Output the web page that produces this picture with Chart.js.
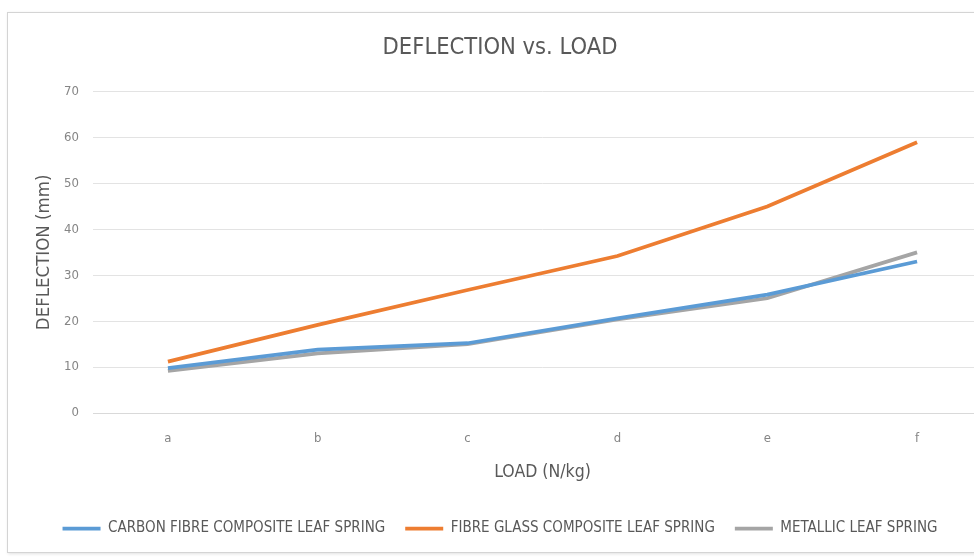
<!DOCTYPE html>
<html>
<head>
<meta charset="utf-8">
<script src="https://cdn.jsdelivr.net/npm/chart.js@4.4.1/dist/chart.umd.min.js"></script>
<style>
  html, body { margin: 0; padding: 0; background: #ffffff; width: 974px; height: 560px; overflow: hidden; }
  #box {
    position: absolute; left: 7px; top: 12px;
    width: 1003px; height: 539px;
    border: 1px solid #d4d4d4;
    box-shadow: 1px 1px 3px rgba(0,0,0,0.12);
    background: #ffffff;
  }
  #chart { display: block; }
</style>
</head>
<body>
<div id="box"><canvas id="chart" width="1003" height="539"></canvas></div>
<script>
// Load steps on the horizontal axis
const categories = ['a', 'b', 'c', 'd', 'e', 'f'];

// Deflection (mm) for each leaf spring type
const carbonFibre = [9.8, 13.8, 15.2, 20.6, 25.8, 33.0];
const fibreGlass  = [11.2, 19.2, 26.8, 34.2, 45.0, 59.0];
const metallic    = [9.2, 13.0, 15.0, 20.4, 25.0, 35.0];

const seriesNames = [
  'CARBON FIBRE COMPOSITE LEAF SPRING',
  'FIBRE GLASS COMPOSITE LEAF SPRING',
  'METALLIC LEAF SPRING'
];

// Deflection axis ticks
const yTicks = [0, 10, 20, 30, 40, 50, 60, 70];

const FONT = '"Liberation Sans Narrow", "DejaVu Sans Condensed", "Open Sans", sans-serif';
const TEXT = '#595959';
const TICK = '#858585';

function line(label, data, color) {
  return {
    label, data,
    borderColor: color,
    backgroundColor: color,
    borderWidth: 3.75,
    pointRadius: 0,
    pointHoverRadius: 0,
    tension: 0,
    fill: false
  };
}

new Chart(document.getElementById('chart'), {
  type: 'line',
  data: {
    labels: categories,
    datasets: [
      line(seriesNames[0], carbonFibre, '#5b9bd5'),
      line(seriesNames[1], fibreGlass, '#ed7d31'),
      line(seriesNames[2], metallic, '#a5a5a5')
    ]
  },
  options: {
    responsive: false,
    animation: false,
    events: [],
    layout: { padding: { left: 0, right: 19, top: 0, bottom: 6 } },
    plugins: {
      title: {
        display: true,
        text: 'DEFLECTION vs. LOAD',
        color: TEXT,
        font: { family: FONT, size: 23.5, weight: 'normal', lineHeight: 1.2 },
        padding: { top: 21, bottom: 29.5 }
      },
      legend: {
        position: 'bottom',
        labels: {
          color: TEXT,
          font: { family: FONT, size: 15 },
          usePointStyle: true,
          pointStyle: 'line',
          pointStyleWidth: 38,
          boxHeight: 14,
          padding: 20
        }
      },
      tooltip: { enabled: false }
    },
    scales: {
      x: {
        type: 'category',
        offset: true,
        grid: { display: false, drawTicks: false },
        border: { display: true, color: '#d9d9d9', width: 1 },
        ticks: { color: TICK, font: { family: FONT, size: 13 }, padding: 18 },
        title: {
          display: true,
          text: 'LOAD (N/kg)',
          color: TEXT,
          font: { family: FONT, size: 17.5 },
          padding: { top: 0, bottom: 18.5 }
        },
        afterFit: s => { s.height = 88; }
      },
      y: {
        min: 0,
        max: 70,
        afterBuildTicks: s => { s.ticks = yTicks.map(v => ({ value: v })); },
        grid: { color: '#e3e3e3', lineWidth: 1, drawTicks: false },
        border: { display: false },
        ticks: { color: TICK, font: { family: FONT, size: 13 }, padding: 14 },
        title: {
          display: true,
          text: 'DEFLECTION (mm)',
          color: TEXT,
          font: { family: FONT, size: 18.5 },
          padding: { top: 24.8, bottom: 0 }
        },
        afterFit: s => { s.width = 85; }
      }
    }
  }
});
</script>
</body>
</html>
